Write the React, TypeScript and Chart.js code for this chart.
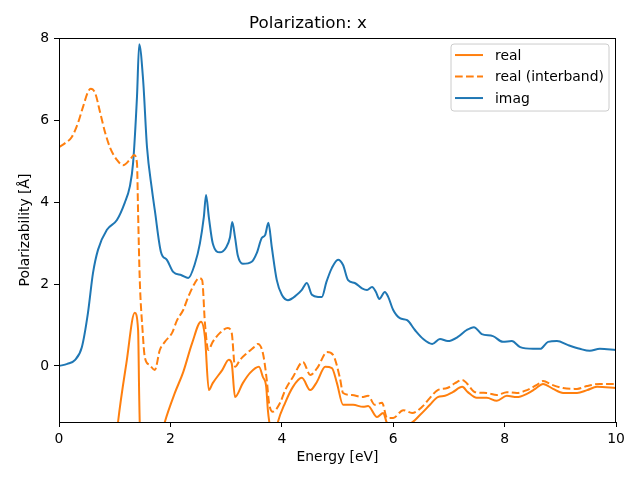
import React, { useEffect, useRef } from "react";
import { Chart, registerables } from "chart.js";

Chart.register(...registerables);

const TITLE = "Polarization: x";
const X_LABEL = "Energy [eV]";
const Y_LABEL = "Polarizability [Å]";
const X_TICKS = [0, 2, 4, 6, 8, 10];
const Y_TICKS = [0, 2, 4, 6, 8];

const imagE = [0, 0.15, 0.29, 0.41, 0.52, 0.61, 0.7, 0.86, 1.04, 1.18, 1.27, 1.33, 1.4, 1.44, 1.51, 1.58, 1.67, 1.72, 1.83, 1.94, 2.05, 2.2, 2.32, 2.44, 2.53, 2.6, 2.64, 2.69, 2.76, 2.89, 3.0, 3.07, 3.11, 3.16, 3.21, 3.3, 3.46, 3.55, 3.64, 3.7, 3.76, 3.82, 3.91, 4.0, 4.11, 4.27, 4.36, 4.45, 4.54, 4.65, 4.72, 4.8, 4.9, 5.01, 5.1, 5.19, 5.31, 5.44, 5.53, 5.62, 5.69, 5.75, 5.85, 5.91, 6.0, 6.12, 6.25, 6.39, 6.54, 6.7, 6.84, 6.98, 7.16, 7.32, 7.45, 7.59, 7.79, 7.97, 8.13, 8.28, 8.51, 8.64, 8.78, 8.94, 9.14, 9.35, 9.53, 9.71, 10.0];
const imagV = [0, 0.05, 0.15, 0.46, 1.3, 2.27, 2.84, 3.33, 3.57, 3.99, 4.38, 4.96, 6.58, 7.87, 7.0, 5.35, 4.3, 3.81, 2.79, 2.59, 2.3, 2.22, 2.15, 2.5, 3.0, 3.64, 4.18, 3.64, 3.0, 2.78, 2.9, 3.15, 3.52, 3.15, 2.7, 2.5, 2.55, 2.76, 3.13, 3.2, 3.5, 2.91, 2.1, 1.74, 1.61, 1.74, 1.86, 2.03, 1.74, 1.69, 1.69, 2.05, 2.4, 2.6, 2.47, 2.1, 2.03, 1.9, 1.86, 1.93, 1.81, 1.64, 1.81, 1.69, 1.37, 1.17, 1.12, 0.88, 0.66, 0.54, 0.66, 0.61, 0.71, 0.88, 0.95, 0.78, 0.73, 0.59, 0.61, 0.46, 0.42, 0.42, 0.59, 0.61, 0.51, 0.42, 0.37, 0.42, 0.39];

const interE = [0, 0.11, 0.23, 0.34, 0.43, 0.52, 0.57, 0.65, 0.74, 0.83, 0.92, 1.04, 1.15, 1.27, 1.35, 1.4, 1.42, 1.45, 1.5, 1.54, 1.63, 1.72, 1.81, 1.9, 2.03, 2.12, 2.23, 2.32, 2.44, 2.51, 2.57, 2.62, 2.68, 2.76, 2.89, 3.03, 3.1, 3.16, 3.25, 3.38, 3.5, 3.57, 3.66, 3.73, 3.77, 3.84, 3.97, 4.06, 4.2, 4.38, 4.51, 4.65, 4.81, 4.92, 5.04, 5.1, 5.26, 5.44, 5.55, 5.67, 5.8, 5.89, 6.0, 6.18, 6.34, 6.52, 6.66, 6.8, 6.97, 7.11, 7.24, 7.32, 7.47, 7.68, 7.86, 8.04, 8.22, 8.4, 8.58, 8.69, 8.85, 9.05, 9.3, 9.48, 9.71, 10.0];
const interV = [5.35, 5.45, 5.6, 5.94, 6.33, 6.7, 6.78, 6.67, 6.19, 5.7, 5.33, 5.04, 4.91, 5.04, 5.16, 4.96, 3.74, 2.1, 0.88, 0.22, 0.02, -0.1, 0.39, 0.59, 0.81, 1.12, 1.37, 1.69, 2.03, 2.15, 2.1, 1.05, 0.39, 0.59, 0.81, 0.93, 0.81, -0.02, 0.15, 0.32, 0.46, 0.54, 0.32, -0.34, -0.9, -1.12, -0.9, -0.59, -0.27, 0.1, -0.22, -0.02, 0.34, 0.27, -0.27, -0.66, -0.71, -0.76, -0.73, -0.95, -0.9, -1.27, -1.27, -1.08, -1.15, -1.0, -0.78, -0.59, -0.54, -0.42, -0.34, -0.42, -0.64, -0.66, -0.71, -0.64, -0.66, -0.59, -0.46, -0.37, -0.46, -0.54, -0.56, -0.49, -0.44, -0.44];

const realE = [0.8, 1.0, 1.06, 1.21, 1.36, 1.42, 1.44, 1.46, 1.5, 1.6, 1.7, 1.8, 1.9, 2.08, 2.23, 2.39, 2.55, 2.62, 2.69, 2.76, 2.93, 3.05, 3.1, 3.16, 3.3, 3.43, 3.59, 3.66, 3.72, 3.75, 3.79, 3.85, 3.93, 4.06, 4.2, 4.36, 4.51, 4.63, 4.78, 4.9, 4.99, 5.1, 5.28, 5.46, 5.55, 5.71, 5.82, 5.89, 6.0, 6.12, 6.3, 6.48, 6.66, 6.8, 6.93, 7.07, 7.24, 7.34, 7.5, 7.68, 7.86, 8.04, 8.22, 8.4, 8.55, 8.69, 8.87, 9.05, 9.3, 9.48, 9.66, 10.0];
const realV = [-6.0, -2.2, -1.37, 0.07, 1.3, 0.88, -0.76, -1.9, -2.3, -2.8, -2.6, -1.9, -1.37, -0.66, -0.15, 0.56, 1.08, 0.71, -0.59, -0.42, -0.1, 0.15, 0.07, -0.76, -0.42, -0.17, -0.02, -0.27, -0.51, -1.08, -1.5, -1.9, -1.37, -0.9, -0.51, -0.29, -0.59, -0.39, -0.02, -0.05, -0.42, -0.95, -0.95, -1.0, -0.98, -1.25, -1.15, -1.4, -1.5, -1.4, -1.4, -1.2, -0.95, -0.76, -0.73, -0.64, -0.51, -0.64, -0.78, -0.78, -0.85, -0.73, -0.76, -0.68, -0.56, -0.44, -0.56, -0.66, -0.66, -0.59, -0.51, -0.54];

const X_MIN = 0;
const X_MAX = 10;
const Y_MIN = -1.37;
const Y_MAX = 8.02;

const ORANGE = "#ff7f0e";
const BLUE = "#1f77b4";
const FONT = "'DejaVu Sans', sans-serif";

const pts = (xs: number[], ys: number[]) => xs.map((x, i) => ({ x, y: ys[i] }));

const framePlugin = {
  id: "frame",
  afterDatasetsDraw(chart: any) {
    const { ctx, chartArea: a } = chart;
    ctx.save();
    ctx.strokeStyle = "#000";
    ctx.lineWidth = 1;
    ctx.strokeRect(Math.round(a.left) + 0.5, Math.round(a.top) + 0.5, Math.round(a.right - a.left) - 1, Math.round(a.bottom - a.top));
    ctx.restore();
  },
};

const legendPlugin = {
  id: "mplLegend",
  afterDatasetsDraw(chart: any) {
    const { ctx, chartArea: a } = chart;
    const ds = chart.data.datasets;
    const w = 158;
    const h = 67;
    const x0 = a.right - 7 - w;
    const y0 = a.top + 6;
    ctx.save();
    ctx.beginPath();
    const r = 3;
    ctx.moveTo(x0 + r, y0);
    ctx.arcTo(x0 + w, y0, x0 + w, y0 + h, r);
    ctx.arcTo(x0 + w, y0 + h, x0, y0 + h, r);
    ctx.arcTo(x0, y0 + h, x0, y0, r);
    ctx.arcTo(x0, y0, x0 + w, y0, r);
    ctx.closePath();
    ctx.fillStyle = "rgba(255,255,255,0.8)";
    ctx.fill();
    ctx.strokeStyle = "#cccccc";
    ctx.lineWidth = 1;
    ctx.stroke();
    ctx.font = `13.9px ${FONT}`;
    ctx.textBaseline = "middle";
    ctx.textAlign = "left";
    ds.forEach((d: any, i: number) => {
      const y = y0 + 11 + i * 21.5;
      ctx.beginPath();
      ctx.strokeStyle = d.borderColor;
      ctx.lineWidth = 2;
      ctx.setLineDash(d.borderDash || []);
      ctx.moveTo(x0 + 4, y);
      ctx.lineTo(x0 + 32, y);
      ctx.stroke();
      ctx.setLineDash([]);
      ctx.fillStyle = "#000";
      ctx.fillText(d.label, x0 + 44, y + 1);
    });
    ctx.restore();
  },
};

export default function App() {
  const ref = useRef<HTMLCanvasElement | null>(null);

  useEffect(() => {
    if (!ref.current) return;
    const chart = new Chart(ref.current, {
      type: "line",
      data: {
        datasets: [
          { label: "real", data: pts(realE, realV), borderColor: ORANGE, borderWidth: 2, pointRadius: 0, cubicInterpolationMode: "monotone" },
          { label: "real (interband)", data: pts(interE, interV), borderColor: ORANGE, borderWidth: 2, borderDash: [7.7, 3.3], pointRadius: 0, cubicInterpolationMode: "monotone" },
          { label: "imag", data: pts(imagE, imagV), borderColor: BLUE, borderWidth: 2, pointRadius: 0, cubicInterpolationMode: "monotone" },
        ] as any,
      },
      options: {
        animation: false,
        responsive: false,
        events: [],
        layout: { padding: { left: 0, right: 24, top: 0, bottom: 0 } },
        plugins: {
          legend: { display: false },
          tooltip: { enabled: false },
          title: {
            display: true,
            text: TITLE,
            color: "#000",
            font: { family: FONT, size: 16.7, weight: "normal" },
            padding: { top: 14, bottom: 4 },
          },
        },
        scales: {
          x: {
            type: "linear",
            min: X_MIN,
            max: X_MAX,
            afterFit: (s: any) => { s.height = 58; },
            afterBuildTicks: (s: any) => { s.ticks = X_TICKS.map((v) => ({ value: v })); },
            grid: { drawOnChartArea: false, drawTicks: true, tickLength: 5, color: "#000" },
            border: { display: false },
            ticks: { color: "#000", font: { family: FONT, size: 13.9 }, padding: 4, maxRotation: 0, callback: (v: any) => String(v) },
            title: { display: true, text: X_LABEL, color: "#000", font: { family: FONT, size: 13.9 }, padding: { top: 0, bottom: 14 } },
          },
          y: {
            type: "linear",
            min: Y_MIN,
            max: Y_MAX,
            afterFit: (s: any) => { s.width = 59; },
            afterBuildTicks: (s: any) => { s.ticks = Y_TICKS.map((v) => ({ value: v })); },
            grid: { drawOnChartArea: false, drawTicks: true, tickLength: 5, color: "#000" },
            border: { display: false },
            ticks: { color: "#000", font: { family: FONT, size: 13.9 }, padding: 5, callback: (v: any) => String(v) },
            title: { display: true, text: Y_LABEL, color: "#000", font: { family: FONT, size: 13.9 }, padding: { top: 16.7, bottom: 0 } },
          },
        },
      },
      plugins: [framePlugin, legendPlugin],
    });
    return () => chart.destroy();
  }, []);

  return (
    <div style={{ position: "absolute", left: 0, top: 0, width: 640, height: 480, background: "#fff" }}>
      <canvas ref={ref} width={640} height={480} style={{ display: "block" }} />
    </div>
  );
}
